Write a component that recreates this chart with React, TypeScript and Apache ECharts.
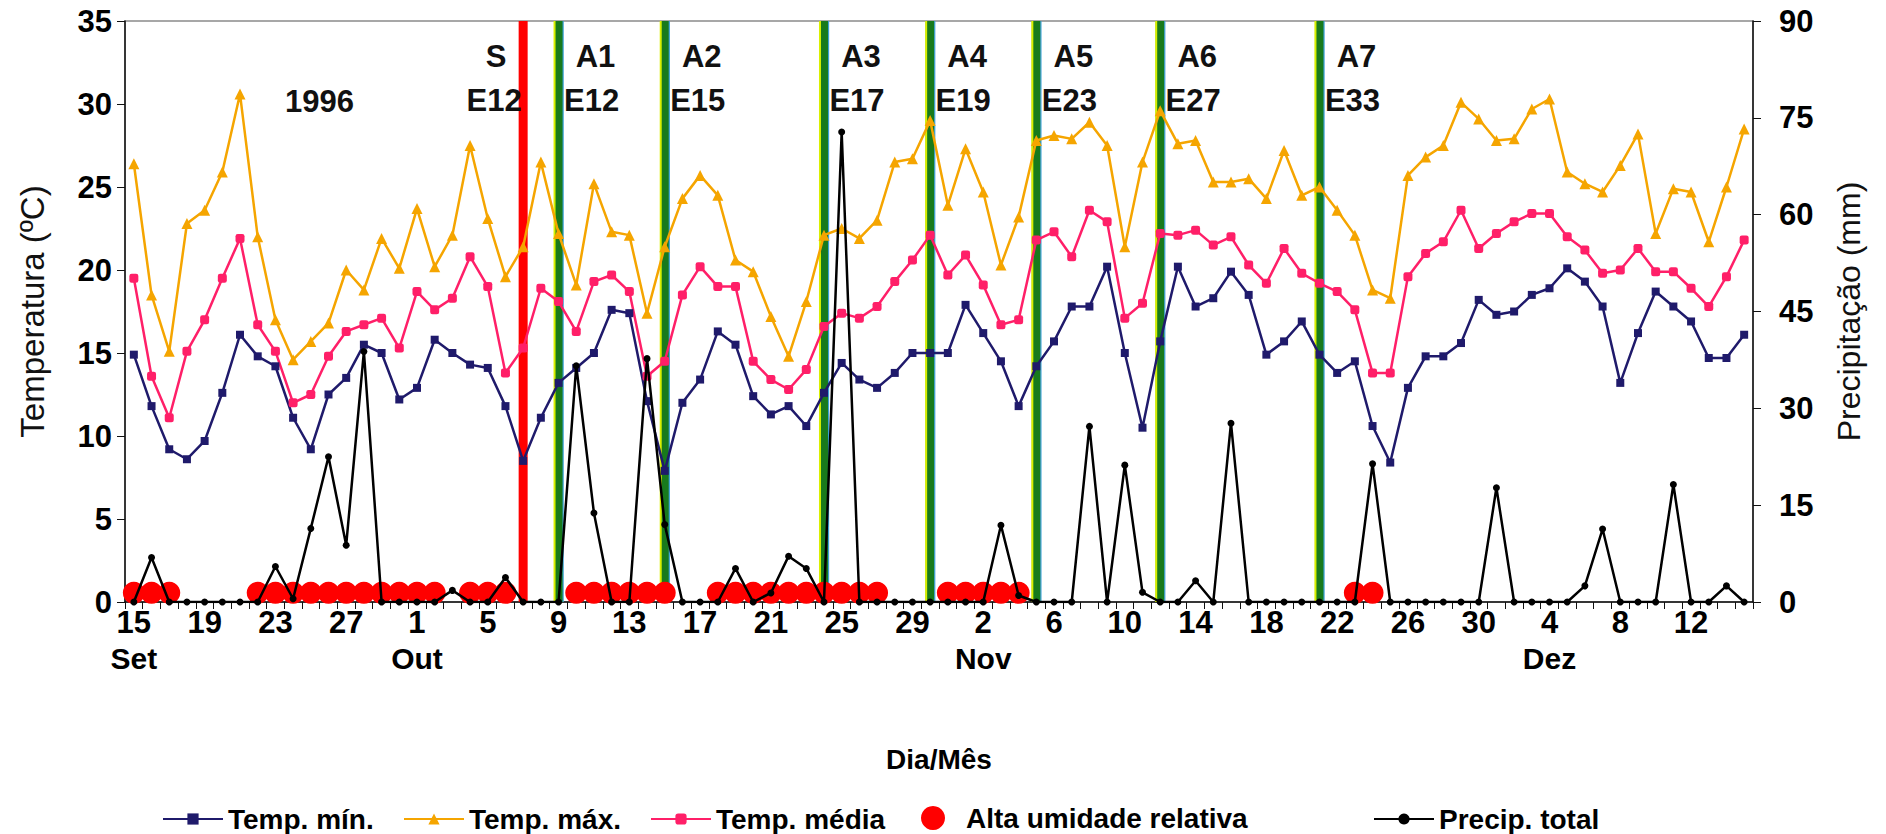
import React, { useEffect, useRef } from "react";
import * as echarts from "echarts";

const days = [
  "15","16","17","18","19","20","21","22","23","24","25","26","27","28","29","30",
  "1","2","3","4","5","6","7","8","9","10","11","12","13","14","15","16","17","18","19","20","21","22","23","24","25","26","27","28","29","30","31",
  "1","2","3","4","5","6","7","8","9","10","11","12","13","14","15","16","17","18","19","20","21","22","23","24","25","26","27","28","29","30",
  "1","2","3","4","5","6","7","8","9","10","11","12","13","14","15",
];
const monthNames = ["Set", "Out", "Nov", "Dez"];
const monthIdx = [0, 16, 48, 80];

const tempMax = [
  26.4,18.5,15.1,22.8,23.6,25.9,30.6,22.0,17.0,14.6,
  15.7,16.8,20.0,18.8,21.9,20.1,23.7,20.2,22.1,27.5,
  23.1,19.6,21.4,26.5,22.2,19.1,25.2,22.3,22.1,17.4,
  21.4,24.3,25.7,24.5,20.6,19.9,17.2,14.8,18.1,22.1,
  22.5,21.9,23.0,26.5,26.7,29.0,23.9,27.3,24.7,20.3,
  23.2,27.8,28.1,27.9,28.9,27.5,21.4,26.5,29.6,27.6,
  27.8,25.3,25.3,25.5,24.3,27.2,24.5,25.0,23.6,22.1,
  18.8,18.3,25.7,26.8,27.5,30.1,29.1,27.8,27.9,29.7,
  30.3,25.9,25.2,24.7,26.3,28.2,22.2,24.9,24.7,21.7,
  25.0,28.5,
];
const tempMean = [
  19.5,13.6,11.1,15.1,17.0,19.5,21.9,16.7,15.1,12.0,
  12.5,14.8,16.3,16.7,17.1,15.3,18.7,17.6,18.3,20.8,
  19.0,13.8,15.3,18.9,18.1,16.3,19.3,19.7,18.7,13.6,
  14.5,18.5,20.2,19.0,19.0,14.5,13.4,12.8,14.0,16.6,
  17.4,17.1,17.8,19.3,20.6,22.1,19.7,20.9,19.1,16.7,
  17.0,21.8,22.3,20.8,23.6,22.9,17.1,18.0,22.2,22.1,
  22.4,21.5,22.0,20.3,19.2,21.3,19.8,19.2,18.7,17.6,
  13.8,13.8,19.6,21.0,21.7,23.6,21.3,22.2,22.9,23.4,
  23.4,22.0,21.2,19.8,20.0,21.3,19.9,19.9,18.9,17.8,
  19.6,21.8,
];
const tempMin = [
  14.9,11.8,9.2,8.6,9.7,12.6,16.1,14.8,14.2,11.1,
  9.2,12.5,13.5,15.5,15.0,12.2,12.9,15.8,15.0,14.3,
  14.1,11.8,8.5,11.1,13.2,14.1,15.0,17.6,17.4,12.1,
  7.9,12.0,13.4,16.3,15.5,12.4,11.3,11.8,10.6,12.6,
  14.4,13.4,12.9,13.8,15.0,15.0,15.0,17.9,16.2,14.5,
  11.8,14.2,15.7,17.8,17.8,20.2,15.0,10.5,15.7,20.2,
  17.8,18.3,19.9,18.5,14.9,15.7,16.9,14.9,13.8,14.5,
  10.6,8.4,12.9,14.8,14.8,15.6,18.2,17.3,17.5,18.5,
  18.9,20.1,19.3,17.8,13.2,16.2,18.7,17.8,16.9,14.7,
  14.7,16.1,
];
const precip = [
  0,6.9,0,0,0,0,0,0,5.5,0.5,
  11.4,22.5,8.8,38.8,0,0,0,0,1.8,0,
  0,3.8,0,0,0,36.6,13.8,0,0,37.7,
  12.0,0,0,0,5.2,0,1.4,7.1,5.2,0,
  72.8,0,0,0,0,0,0,0,0,11.9,
  1.0,0,0,0,27.2,0,21.2,1.5,0,0,
  3.3,0,27.7,0,0,0,0,0,0,0,
  21.4,0,0,0,0,0,0,17.7,0,0,
  0,0,2.5,11.3,0,0,0,18.2,0,0,
  2.5,0,
];
const highHumidityDays = [
  0,1,2,7,8,9,10,11,12,13,14,15,16,17,19,20,21,
  25,26,27,28,29,30,33,34,35,36,37,38,39,40,41,42,
  46,47,48,49,50,69,70,
];
const humidityMarkLevel = 0.55;

const eventIdx = [22, 24, 30, 39, 45, 51, 58, 67];
const eventTop = ["S", "A1", "A2", "A3", "A4", "A5", "A6", "A7"];
const eventStage = ["E12", "E12", "E15", "E17", "E19", "E23", "E27", "E33"];
const yearLabel = "1996";

const FONT = '"Liberation Sans", Arial, Helvetica, sans-serif';
const NAVY = "#1f1a6b";
const ORANGE = "#f5a500";
const PINK = "#ff1f68";
const RED = "#ff0000";
const GREEN = "#187a1c";

export default function App() {
  const ref = useRef<HTMLDivElement>(null);
  useEffect(() => {
    const chart = echarts.init(ref.current!, null, { renderer: "svg" });
    const legendText = { fontSize: 28, fontWeight: "bold", color: "#000", fontFamily: FONT };
    const tickFont = { fontSize: 31, fontWeight: "bold", color: "#000", fontFamily: FONT };
    const option: any = {
      animation: false,
      backgroundColor: "#fff",
      textStyle: { fontFamily: FONT },
      grid: { left: 125, right: 133, top: 21, bottom: 232, show: true, borderColor: "#8a8a8a", borderWidth: 1.5, containLabel: false },
      graphic: [
        { type: "text", left: 285, top: 86, style: { text: yearLabel, font: `bold 31px ${FONT}`, fill: "#111" } },
      ],
      legend: [
        { data: ["Temp. mín."], left: 157, top: 800, itemWidth: 60, itemHeight: 14, textStyle: legendText },
        { data: ["Temp. máx."], left: 398, top: 800, itemWidth: 60, itemHeight: 14, textStyle: legendText },
        { data: ["Temp. média"], left: 645, top: 800, itemWidth: 60, itemHeight: 14, textStyle: legendText },
        { data: [{ name: "Alta umidade relativa", icon: "circle" }], left: 916, top: 799, itemWidth: 24, itemHeight: 24, textStyle: { ...legendText, padding: [0, 0, 0, 16] } },
        { data: ["Precip. total"], left: 1368, top: 800, itemWidth: 60, itemHeight: 14, textStyle: legendText },
      ],
      xAxis: [
        {
          type: "category",
          data: days,
          boundaryGap: true,
          position: "bottom",
          name: "Dia/Mês",
          nameLocation: "middle",
          nameGap: 143,
          nameTextStyle: { fontSize: 28, fontWeight: "bold", color: "#000", fontFamily: FONT },
          axisLine: { show: true, onZero: false, lineStyle: { color: "#111", width: 1.5 } },
          axisTick: { show: true, interval: 0, length: 7, inside: false, lineStyle: { color: "#111", width: 1 } },
          axisLabel: { interval: 3, margin: 5, ...tickFont },
          splitLine: { show: false },
        },
        {
          type: "category",
          data: days,
          boundaryGap: true,
          position: "bottom",
          axisLine: { show: false },
          axisTick: { show: false },
          axisLabel: {
            interval: (i: number) => monthIdx.indexOf(i) >= 0,
            formatter: (_v: string, i: number) => {
              const k = monthIdx.indexOf(i);
              return k >= 0 ? monthNames[k] : "";
            },
            margin: 41,
            fontSize: 30,
            fontWeight: "bold",
            color: "#000",
            fontFamily: FONT,
          },
          splitLine: { show: false },
        },
      ],
      yAxis: [
        {
          type: "value",
          min: 0,
          max: 35,
          interval: 5,
          position: "left",
          name: "Temperatura (ºC)",
          nameLocation: "middle",
          nameGap: 76,
          nameTextStyle: { fontSize: 33, color: "#111", fontFamily: FONT },
          axisLine: { show: true, lineStyle: { color: "#111", width: 1.5 } },
          axisTick: { show: true, length: 8, lineStyle: { color: "#111" } },
          axisLabel: { margin: 13, ...tickFont },
          splitLine: { show: false },
        },
        {
          type: "value",
          min: 0,
          max: 90,
          interval: 15,
          position: "right",
          name: "Precipitação (mm)",
          nameLocation: "middle",
          nameGap: 80,
          nameTextStyle: { fontSize: 32, color: "#111", fontFamily: FONT },
          axisLine: { show: true, lineStyle: { color: "#111", width: 1.5 } },
          axisTick: { show: true, length: 8, lineStyle: { color: "#111" } },
          axisLabel: { margin: 26, ...tickFont },
          splitLine: { show: false },
        },
      ],
      series: [
        {
          type: "custom",
          name: "eventos",
          xAxisIndex: 0,
          yAxisIndex: 0,
          z: 1,
          silent: true,
          data: eventIdx.map((d) => [d, 0]),
          encode: { x: 0, y: 1 },
          renderItem: (params: any, api: any) => {
            const k = params.dataIndex;
            const x = api.coord([api.value(0), 0])[0];
            const cs = params.coordSys;
            const isS = k === 0;
            const children: any[] = [
              { type: "rect", shape: { x: x - 4.5, y: cs.y, width: 9, height: cs.height }, style: { fill: isS ? RED : GREEN } },
            ];
            if (!isS) {
              children.push({ type: "rect", shape: { x: x - 5, y: cs.y, width: 2, height: cs.height }, style: { fill: "#d9ef00" } });
              children.push({ type: "rect", shape: { x: x + 4, y: cs.y, width: 1.2, height: cs.height }, style: { fill: "#3b9fd6" } });
            }
            const dxTop = isS ? -27 : 37;
            const dxStage = isS ? -29 : 33;
            children.push({
              type: "text",
              x: x + dxTop,
              y: cs.y + 35,
              style: { text: eventTop[k], font: `bold 31px ${FONT}`, fill: "#111", align: "center", verticalAlign: "middle" },
            });
            children.push({
              type: "text",
              x: x + dxStage,
              y: cs.y + 79,
              style: { text: eventStage[k], font: `bold 31px ${FONT}`, fill: "#111", align: "center", verticalAlign: "middle" },
            });
            return { type: "group", children };
          },
        },
        {
          name: "Alta umidade relativa",
          type: "scatter",
          xAxisIndex: 0,
          yAxisIndex: 0,
          z: 2,
          symbol: "circle",
          symbolSize: 22,
          itemStyle: { color: RED, opacity: 1 },
          data: highHumidityDays.map((d) => [d, humidityMarkLevel]),
        },
        {
          name: "Temp. máx.",
          type: "line",
          xAxisIndex: 0,
          yAxisIndex: 0,
          z: 3,
          data: tempMax,
          symbol: "triangle",
          symbolSize: 11,
          lineStyle: { color: ORANGE, width: 2.5 },
          itemStyle: { color: ORANGE },
        },
        {
          name: "Temp. média",
          type: "line",
          xAxisIndex: 0,
          yAxisIndex: 0,
          z: 3,
          data: tempMean,
          symbol: "roundRect",
          symbolSize: 9,
          lineStyle: { color: PINK, width: 2.5 },
          itemStyle: { color: PINK },
        },
        {
          name: "Temp. mín.",
          type: "line",
          xAxisIndex: 0,
          yAxisIndex: 0,
          z: 3,
          data: tempMin,
          symbol: "rect",
          symbolSize: 8,
          lineStyle: { color: NAVY, width: 2.5 },
          itemStyle: { color: NAVY },
        },
        {
          name: "Precip. total",
          type: "line",
          xAxisIndex: 0,
          yAxisIndex: 1,
          z: 4,
          data: precip,
          symbol: "circle",
          symbolSize: 7,
          lineStyle: { color: "#000", width: 2.5 },
          itemStyle: { color: "#000" },
        },
      ],
    };
    chart.setOption(option);
    return () => chart.dispose();
  }, []);
  return (
    <div
      ref={ref}
      style={{ position: "fixed", left: 0, top: 0, width: 1886, height: 834, background: "#fff" }}
    />
  );
}
